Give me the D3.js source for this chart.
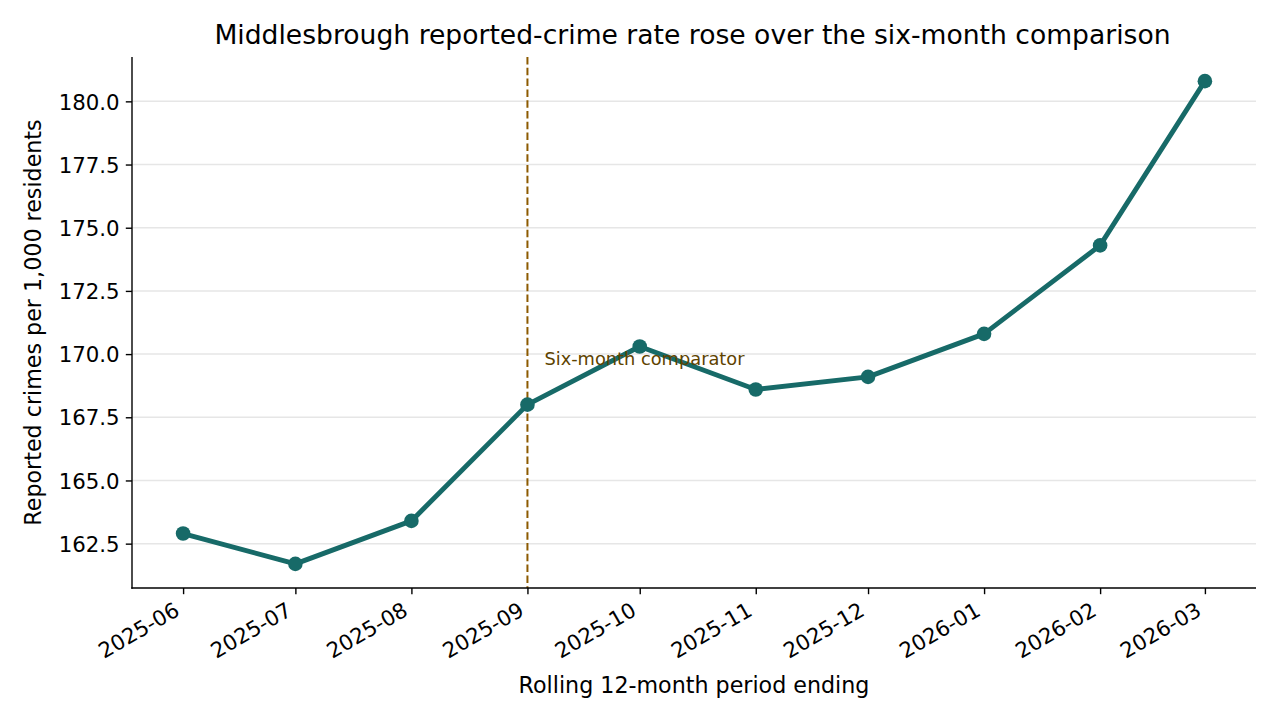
<!DOCTYPE html>
<html>
<head>
<meta charset="utf-8">
<script src="https://cdn.jsdelivr.net/npm/d3@7"></script>
<style>
  html, body { margin: 0; padding: 0; background: #ffffff; }
  svg { display: block; font-family: "DejaVu Sans", sans-serif; }
</style>
</head>
<body>
<svg id="chart" width="1280" height="720"></svg>
<script>
// ---- data ----
const periods = ["2025-06", "2025-07", "2025-08", "2025-09", "2025-10", "2025-11", "2025-12", "2026-01", "2026-02", "2026-03"];
const rates = [162.9, 161.7, 163.4, 168.0, 170.3, 168.6, 169.1, 170.8, 174.3, 180.8];
const yTicks = [162.5, 165.0, 167.5, 170.0, 172.5, 175.0, 177.5, 180.0];
const comparatorPeriod = "2025-09";
const comparatorLabel = "Six-month comparator";
const titleText = "Middlesbrough reported-crime rate rose over the six-month comparison";
const xLabelText = "Rolling 12-month period ending";
const yLabelText = "Reported crimes per 1,000 residents";

// ---- layout ----
const W = 1280, H = 720;
const plot = { left: 132, right: 1256, top: 57, bottom: 588 };
const lineColor = "#176a68";
const dashColor = "#8c5a00";
const noteColor = "#5e4300";

const parse = d3.utcParse("%Y-%m");
const fmtX = d3.utcFormat("%Y-%m");
const data = periods.map((p, i) => ({ date: parse(p), value: rates[i] }));

const svg = d3.select("#chart");

// scales with 5% margins like the original
const xExt = d3.extent(data, d => d.date);
const xPad = (xExt[1] - xExt[0]) * 0.05;
const x = d3.scaleUtc()
  .domain([new Date(+xExt[0] - xPad), new Date(+xExt[1] + xPad)])
  .range([plot.left, plot.right]);

const yExt = d3.extent(rates);
const yPad = (yExt[1] - yExt[0]) * 0.05;
const y = d3.scaleLinear()
  .domain([yExt[0] - yPad, yExt[1] + yPad])
  .range([plot.bottom, plot.top]);

// grid
svg.append("g")
  .selectAll("line")
  .data(yTicks)
  .join("line")
  .attr("x1", plot.left).attr("x2", plot.right)
  .attr("y1", d => y(d)).attr("y2", d => y(d))
  .attr("stroke", "#e6e6e6")
  .attr("stroke-width", 1.5);

// comparator dashed line
const cx = x(parse(comparatorPeriod));
svg.append("line")
  .attr("x1", cx).attr("x2", cx)
  .attr("y1", plot.top).attr("y2", plot.bottom)
  .attr("stroke", dashColor)
  .attr("stroke-width", 2)
  .attr("stroke-dasharray", "7.5,3.3");

// line
svg.append("path")
  .datum(data)
  .attr("fill", "none")
  .attr("stroke", lineColor)
  .attr("stroke-width", 4.9)
  .attr("stroke-linejoin", "round")
  .attr("stroke-linecap", "butt")
  .attr("d", d3.line().x(d => x(d.date)).y(d => y(d.value)));

// markers
svg.append("g")
  .selectAll("circle")
  .data(data)
  .join("circle")
  .attr("cx", d => x(d.date))
  .attr("cy", d => y(d.value))
  .attr("r", 7.3)
  .attr("fill", lineColor);

// annotation
svg.append("text")
  .attr("x", cx + 17)
  .attr("y", y(170.0) + 10.5)
  .attr("fill", noteColor)
  .attr("font-size", "17.8px")
  .text(comparatorLabel);

// axes
const yAxis = d3.axisLeft(y).tickValues(yTicks).tickFormat(d3.format(".1f")).tickSize(6.2).tickPadding(6.2);
const gy = svg.append("g").attr("transform", `translate(${plot.left},0)`).call(yAxis);
gy.select(".domain").remove();
gy.selectAll(".tick line").attr("stroke", "#000").attr("stroke-width", 1.4);
gy.selectAll(".tick text")
  .attr("font-size", "21.3px")
  .attr("font-family", "DejaVu Sans, sans-serif")
  .attr("fill", "#000")
  .attr("dy", "0.36em");

const xAxis = d3.axisBottom(x).tickValues(data.map(d => d.date)).tickFormat(fmtX).tickSize(6.2).tickPadding(0);
const gx = svg.append("g").attr("transform", `translate(0,${plot.bottom})`).call(xAxis);
gx.select(".domain").remove();
gx.selectAll(".tick line").attr("stroke", "#000").attr("stroke-width", 1.4);
const fs = 21.3;
gx.selectAll(".tick text")
  .attr("font-size", fs + "px")
  .attr("font-family", "DejaVu Sans, sans-serif")
  .attr("fill", "#000")
  .attr("dy", null)
  .attr("y", null)
  .attr("text-anchor", "end")
  .attr("transform", `translate(${-0.5 * 0.24 * fs},${6.2 + 6.2 + 0.866 * 0.76 * fs}) rotate(-30)`);

// spines
svg.append("line")
  .attr("x1", plot.left).attr("x2", plot.left)
  .attr("y1", plot.top).attr("y2", plot.bottom + 0.7)
  .attr("stroke", "#000").attr("stroke-width", 1.4);
svg.append("line")
  .attr("x1", plot.left - 0.7).attr("x2", plot.right)
  .attr("y1", plot.bottom).attr("y2", plot.bottom)
  .attr("stroke", "#000").attr("stroke-width", 1.4);

// titles
svg.append("text")
  .attr("x", (plot.left + plot.right) / 2 - 1.5)
  .attr("y", 43.5)
  .attr("text-anchor", "middle")
  .attr("font-size", "26.6px")
  .attr("fill", "#000")
  .text(titleText);

svg.append("text")
  .attr("x", (plot.left + plot.right) / 2)
  .attr("y", 693)
  .attr("text-anchor", "middle")
  .attr("font-size", "22.2px")
  .attr("fill", "#000")
  .text(xLabelText);

svg.append("text")
  .attr("transform", `translate(41,${(plot.top + plot.bottom) / 2}) rotate(-90)`)
  .attr("text-anchor", "middle")
  .attr("font-size", "22.2px")
  .attr("fill", "#000")
  .text(yLabelText);
</script>
</body>
</html>
